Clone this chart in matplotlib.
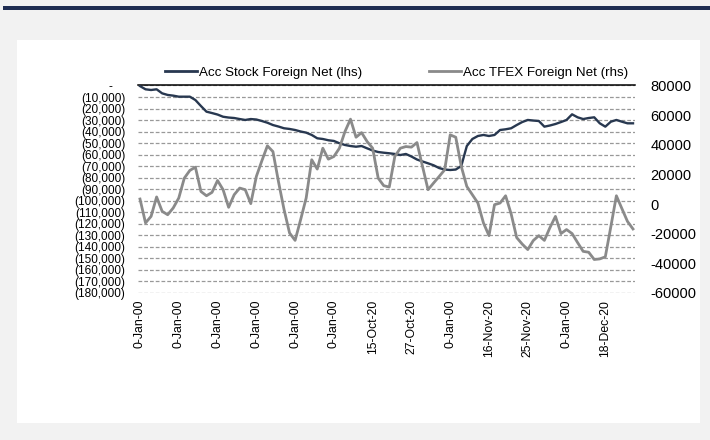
import numpy as np
import matplotlib
matplotlib.use("Agg")
import matplotlib.pyplot as plt
from matplotlib.lines import Line2D
from matplotlib.patches import Rectangle
from matplotlib.ticker import FuncFormatter

plt.rcParams['font.family'] = ['Liberation Sans', 'DejaVu Sans']

# Accumulated foreign net positions, one value per trading day
stock_net = [
    -500, -3300, -3900, -3300, -6800, -8200, -8800, -9700, -9700, -9700,
    -12600, -17800, -22700, -23900, -25200, -27100, -27800, -28200, -29100, -29900,
    -29100, -29500, -30800, -32300, -34300, -35600, -37100, -37700, -38600, -39900,
    -40900, -42900, -45800, -46400, -47500, -48100, -50100, -51600, -52500, -53100,
    -52500, -54500, -56400, -57700, -58300, -58800, -59400, -60300, -59400, -61600,
    -64200, -65900, -67500, -69200, -71600, -72900, -73300, -72900, -69800, -52500,
    -46400, -43800, -42900, -43800, -42900, -38600, -38000, -37100, -34300, -31700,
    -29900, -30400, -30800, -35700, -34700, -33400, -31700, -29900, -25000, -27600,
    -29100, -28200, -27600, -32800, -35700, -31400, -29900, -31400, -32800, -32800,
]
tfex_net = [
    3400, -12700, -8300, 4800, -4900, -7200, -2600, 4100, 17500, 22700,
    24900, 8500, 5600, 7900, 15900, 9700, -2200, 6300, 10800, 9700,
    300, 18600, 29200, 39300, 35400, 15100, -3600, -19500, -24500, -10500,
    4100, 29900, 23600, 37700, 30300, 32100, 37700, 48900, 57300, 45100,
    48200, 42200, 37700, 17500, 12400, 11500, 32100, 37700, 38800, 38400,
    41500, 25400, 9700, 14200, 18600, 23100, 46700, 45100, 25400, 11900,
    6300, 700, -12700, -21300, -400, 700, 5600, -6600, -22600, -27000,
    -30700, -24600, -21300, -24500, -15900, -8300, -19900, -17200, -19900, -26000,
    -31900, -32500, -37400, -37000, -35600, -15200, 5600, -3100, -11700, -16800,
]
tick_labels = [
    "0-Jan-00", "0-Jan-00", "0-Jan-00", "0-Jan-00", "0-Jan-00", "0-Jan-00",
    "15-Oct-20", "27-Oct-20", "0-Jan-00", "16-Nov-20", "25-Nov-20", "0-Jan-00",
    "18-Dec-20",
]
series_names = ["Acc Stock Foreign Net (lhs)", "Acc TFEX Foreign Net (rhs)"]

NAVY = '#283850'
GREY = '#8a8a8a'

fig = plt.figure(figsize=(7.1, 4.4), dpi=100)
fig.patch.set_facecolor('#f2f2f2')

# white card and the navy rule on top of the page
fig.add_artist(Rectangle((17 / 710, 1 - 423 / 440), 683 / 710, 383 / 440,
                         transform=fig.transFigure, facecolor='white',
                         edgecolor='none', zorder=0))
fig.add_artist(Rectangle((3 / 710, 1 - 10 / 440), 707 / 710, 4 / 440,
                         transform=fig.transFigure, facecolor='#1f2d52',
                         edgecolor='none', zorder=0))

ax = fig.add_axes([138 / 710, 1 - 293 / 440, 497 / 710, 207.5 / 440])
ax.patch.set_alpha(0)
x = np.arange(len(stock_net))

ax.plot(x, stock_net, color=NAVY, lw=1.7, zorder=3)
ax.set_ylim(-180000, 0)
ax.set_yticks(np.arange(-180000, 1, 10000))
ax.yaxis.set_major_formatter(FuncFormatter(
    lambda v, p: "-    " if v == 0 else "({:,.0f})".format(-v)))
ax.grid(axis='y', color='#999999', linestyle=(0, (3, 1.6)), linewidth=0.9)
ax.set_xlim(-0.36, len(x) - 1 + 0.36)
ax.set_xticks(np.arange(0, len(x), 7))
ax.set_xticklabels(tick_labels, rotation=90, fontsize=8.8)
ax.tick_params(axis='x', length=0, pad=5)
ax.tick_params(axis='y', length=0, pad=9, labelsize=8.5)
for s in ['left', 'right', 'bottom']:
    ax.spines[s].set_visible(False)
ax.spines['top'].set_color('black')
ax.spines['top'].set_linewidth(1.1)

ax2 = ax.twinx()
ax2.plot(x, tfex_net, color=GREY, lw=2.0, zorder=3)
ax2.set_ylim(-60000, 80000)
ax2.set_yticks(np.arange(-60000, 80001, 20000))
ax2.yaxis.set_major_formatter(FuncFormatter(lambda v, p: "{:.0f}".format(v)))
ax2.tick_params(axis='y', length=0, pad=11, labelsize=10.5)
for s in ax2.spines.values():
    s.set_visible(False)

handles = [Line2D([], [], color=NAVY, lw=2), Line2D([], [], color=GREY, lw=2)]
fig.legend(handles, series_names, ncol=2, loc='center',
           bbox_to_anchor=(397 / 710, 1 - 73 / 440), frameon=False,
           fontsize=9.6, handlelength=2.4, handletextpad=0.15,
           columnspacing=5.0)

fig.savefig('out.png', dpi=100, facecolor=fig.get_facecolor())
